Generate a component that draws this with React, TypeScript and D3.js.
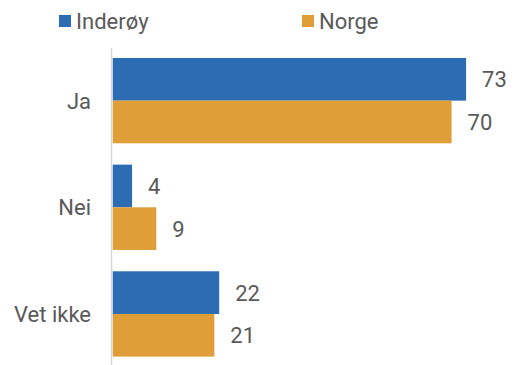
import React from "react";
import * as d3 from "d3";

const categories = ["Ja", "Nei", "Vet ikke"];
const seriesNames = ["Inderøy", "Norge"];
const inderoy = [73, 4, 22];
const norge = [70, 9, 21];

const colors = ["#2b6cb3", "#df9e37"];
const textColor = "#595959";
const font = "Roboto, 'Liberation Sans', sans-serif";

export default function App() {
  const W = 519, H = 365;
  const x = d3.scaleLinear().domain([0, 80]).range([112.7, 500]);
  const y = d3.scaleBand().domain(categories).range([47.3, 367.3]).paddingInner(0.2).paddingOuter(0.1);
  const sub = d3.scaleBand().domain(seriesNames).range([0, y.bandwidth()]);
  const series = [inderoy, norge];

  return (
    <svg width={W} height={H} style={{ position: "absolute", left: 0, top: 0 }} fontFamily={font}>
      <rect width={W} height={H} fill="#fff" />
      {/* legend */}
      {seriesNames.map((s, i) => {
        const lx = i === 0 ? 59 : 302;
        return (
          <g key={s}>
            <rect x={lx} y={15} width={12} height={12} fill={colors[i]} />
            <text x={lx + 17} y={28.5} fontSize={22} fill={textColor}>{s}</text>
          </g>
        );
      })}
      {/* bars */}
      {categories.map((c, ci) => (
        <g key={c}>
          {series.map((vals, si) => {
            const by = (y(c) as number) + (sub(seriesNames[si]) as number);
            const bh = sub.bandwidth();
            return (
              <g key={si}>
                <rect x={x(0)} y={by} width={x(vals[ci]) - x(0)} height={bh} fill={colors[si]} />
                <text x={x(vals[ci]) + 16} y={by + bh / 2} dy="0.36em" fontSize={22} fill={textColor}>
                  {vals[ci]}
                </text>
              </g>
            );
          })}
          <text x={91} y={(y(c) as number) + y.bandwidth() / 2} dy="0.36em" textAnchor="end" fontSize={22} fill={textColor}>
            {c}
          </text>
        </g>
      ))}
      {/* axis */}
      <line x1={111.5} x2={111.5} y1={48} y2={365} stroke="#d9d9d9" strokeWidth={1.5} />
    </svg>
  );
}
